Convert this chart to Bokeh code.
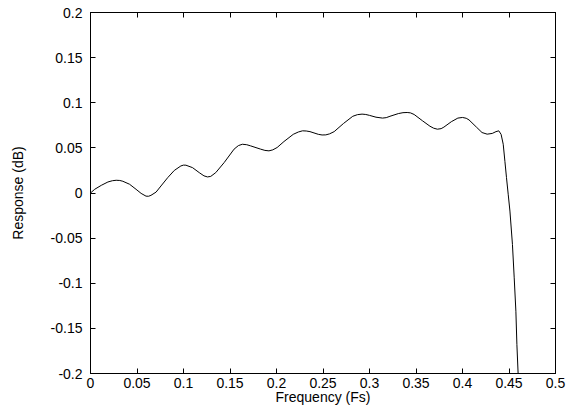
from bokeh.plotting import figure
from bokeh.models import Range1d, LinearAxis, FixedTicker
from bokeh.embed import file_html
from bokeh.resources import INLINE

# Frequency (Fs) and response (dB)
freq = [0.000, 0.0045, 0.0116, 0.0187, 0.0235, 0.0276, 0.0315, 0.0348, 0.042, 0.049,
        0.0544, 0.0597, 0.0625, 0.065, 0.0705, 0.0758, 0.083, 0.0901, 0.0972, 0.100,
        0.1026, 0.1097, 0.1169, 0.122, 0.1258, 0.1293, 0.1347, 0.1437, 0.1544, 0.159,
        0.1633, 0.168, 0.1722, 0.1829, 0.1875, 0.1919, 0.196, 0.2007, 0.208, 0.218,
        0.2235, 0.228, 0.232, 0.236, 0.245, 0.249, 0.253, 0.257, 0.262, 0.272,
        0.282, 0.287, 0.292, 0.296, 0.300, 0.307, 0.314, 0.318, 0.322, 0.331,
        0.336, 0.3405, 0.344, 0.348, 0.357, 0.365, 0.369, 0.373, 0.377, 0.380,
        0.388, 0.395, 0.400, 0.404, 0.407, 0.415, 0.421, 0.4265, 0.432, 0.436,
        0.439, 0.4415, 0.4438, 0.4456, 0.4473, 0.4492, 0.451, 0.4537, 0.4556, 0.4574,
        0.4585, 0.4598, 0.4605]
resp = [0.000, 0.0041, 0.0085, 0.0122, 0.0136, 0.0141, 0.0139, 0.0130, 0.0097, 0.0041,
        -0.0004, -0.0035, -0.0036, -0.0026, 0.0010, 0.0078, 0.0170, 0.0250, 0.0300, 0.0309,
        0.0308, 0.0281, 0.0226, 0.0190, 0.0178, 0.0184, 0.0226, 0.0337, 0.0486, 0.0525,
        0.0540, 0.0535, 0.0522, 0.0486, 0.0472, 0.0467, 0.0478, 0.0504, 0.0570, 0.0650,
        0.0676, 0.0689, 0.0687, 0.0680, 0.0650, 0.0643, 0.0644, 0.0655, 0.0680, 0.0770,
        0.0850, 0.0868, 0.0874, 0.0870, 0.0860, 0.0840, 0.0830, 0.0835, 0.0850, 0.0880,
        0.0890, 0.0892, 0.0888, 0.0870, 0.0800, 0.0740, 0.0718, 0.0707, 0.0713, 0.0730,
        0.0790, 0.0830, 0.0837, 0.0828, 0.0810, 0.0730, 0.0670, 0.0652, 0.0660, 0.0680,
        0.0689, 0.0650, 0.0540, 0.0350, 0.0170, -0.0020, -0.0200, -0.0570, -0.0940, -0.1310,
        -0.1680, -0.2000, -0.2100]

x_ticks = [0, 0.05, 0.1, 0.15, 0.2, 0.25, 0.3, 0.35, 0.4, 0.45, 0.5]
x_labels = ["0", "0.05", "0.1", "0.15", "0.2", "0.25", "0.3", "0.35", "0.4", "0.45", "0.5"]
y_ticks = [-0.2, -0.15, -0.1, -0.05, 0, 0.05, 0.1, 0.15, 0.2]
y_labels = ["-0.2", "-0.15", "-0.1", "-0.05", "0", "0.05", "0.1", "0.15", "0.2"]

FONT = "Liberation Sans"
FS = "14px"

p = figure(width=566, height=407, output_backend="svg", toolbar_location=None,
           x_range=Range1d(0, 0.5), y_range=Range1d(-0.2, 0.2),
           x_axis_label="Frequency (Fs)", y_axis_label="Response (dB)",
           min_border_left=90, min_border_right=11, min_border_top=12, min_border_bottom=10)

p.line(freq, resp, line_color="black", line_width=1)

p.grid.visible = False
p.outline_line_color = "black"
p.outline_line_width = 1
p.background_fill_color = "white"
p.border_fill_color = "white"

def style_axis(ax, ticks, labels, show_labels=True):
    ax.ticker = FixedTicker(ticks=ticks)
    ax.major_tick_in = 5
    ax.major_tick_out = 0
    ax.minor_tick_in = 0
    ax.minor_tick_out = 0
    ax.axis_line_color = "black"
    ax.major_tick_line_color = "black"
    ax.major_label_text_font = FONT
    ax.major_label_text_color = "black"
    ax.axis_label_text_font = FONT
    ax.axis_label_text_font_style = "normal"
    ax.axis_label_text_font_size = FS
    ax.axis_label_text_color = "black"
    if show_labels:
        ax.major_label_overrides = {t: l for t, l in zip(ticks, labels)}
        ax.major_label_text_font_size = FS
    else:
        ax.major_label_overrides = {t: "" for t in ticks}
        ax.major_label_text_font_size = "1px"
        ax.major_label_standoff = 0

style_axis(p.xaxis[0], x_ticks, x_labels)
p.xaxis[0].major_label_standoff = 4
p.xaxis[0].axis_label_standoff = -2
style_axis(p.yaxis[0], y_ticks, y_labels)
p.yaxis[0].major_label_standoff = 8
p.yaxis[0].axis_label_standoff = 22

top = LinearAxis()
style_axis(top, x_ticks, x_labels, show_labels=False)
p.add_layout(top, "above")
right = LinearAxis()
style_axis(right, y_ticks, y_labels, show_labels=False)
p.add_layout(right, "right")

open("out.html", "w").write(file_html(p, INLINE))
